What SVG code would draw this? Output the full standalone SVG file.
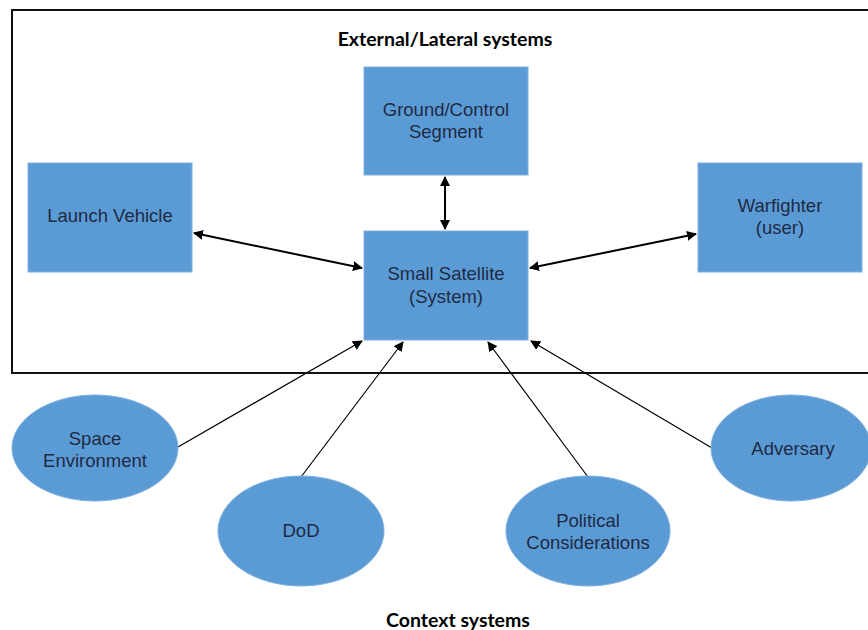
<svg xmlns="http://www.w3.org/2000/svg" width="868" height="630" viewBox="0 0 868 630">
<defs>
<marker id="ah" viewBox="0 0 10 10" refX="9" refY="5" markerWidth="10" markerHeight="10" markerUnits="userSpaceOnUse" orient="auto-start-reverse">
<path d="M0,0 L10,5 L0,10 z" fill="#000"/>
</marker>
<style>
.box{fill:#5b9bd5;stroke:#7fb0df;stroke-width:1}
.ell{fill:#5b9bd5;stroke:#7fb0df;stroke-width:1}
.lbl{font-family:"Liberation Sans",Arial,sans-serif;font-size:18.5px;fill:#1f2a44;text-anchor:middle}
.title{font-family:"Lato","Open Sans",sans-serif;font-weight:bold;font-size:19.5px;fill:#000;text-anchor:middle}
.c2{stroke:#000;stroke-width:2;fill:none}
.c1{stroke:#000;stroke-width:1.2;fill:none}
</style>
</defs>
<rect width="868" height="630" fill="#fff"/>
<rect x="12" y="10" width="870" height="363" fill="none" stroke="#111" stroke-width="2"/>
<text class="title" x="445" y="46">External/Lateral systems</text>
<text class="title" x="458" y="627">Context systems</text>

<g id="connectors">
<line class="c2" x1="445" y1="177" x2="445" y2="229" marker-start="url(#ah)" marker-end="url(#ah)"/>
<line class="c2" x1="194" y1="233" x2="362" y2="268" marker-start="url(#ah)" marker-end="url(#ah)"/>
<line class="c2" x1="530" y1="268" x2="696" y2="234" marker-start="url(#ah)" marker-end="url(#ah)"/>
<line class="c1" x1="178" y1="447" x2="362" y2="341" marker-end="url(#ah)"/>
<line class="c1" x1="301" y1="477" x2="403" y2="342" marker-end="url(#ah)"/>
<line class="c1" x1="588" y1="477" x2="488" y2="342" marker-end="url(#ah)"/>
<line class="c1" x1="712" y1="448" x2="531" y2="341" marker-end="url(#ah)"/>
</g>

<g id="ground">
<rect class="box" x="364" y="67" width="164" height="108"/>
<text class="lbl" x="446" y="116">Ground/Control</text>
<text class="lbl" x="446" y="138">Segment</text>
</g>
<g id="launch">
<rect class="box" x="28" y="163" width="164" height="109"/>
<text class="lbl" x="110" y="222">Launch Vehicle</text>
</g>
<g id="satellite">
<rect class="box" x="364" y="231" width="164" height="109"/>
<text class="lbl" x="446" y="280">Small Satellite</text>
<text class="lbl" x="446" y="303">(System)</text>
</g>
<g id="warfighter">
<rect class="box" x="698" y="163" width="164" height="109"/>
<text class="lbl" x="780" y="212">Warfighter</text>
<text class="lbl" x="780" y="234">(user)</text>
</g>
<g id="space">
<ellipse class="ell" cx="95" cy="448" rx="83" ry="53"/>
<text class="lbl" x="95" y="445">Space</text>
<text class="lbl" x="95" y="467">Environment</text>
</g>
<g id="dod">
<ellipse class="ell" cx="301" cy="531" rx="83" ry="55"/>
<text class="lbl" x="301" y="537">DoD</text>
</g>
<g id="political">
<ellipse class="ell" cx="588" cy="531" rx="82" ry="55"/>
<text class="lbl" x="588" y="527">Political</text>
<text class="lbl" x="588" y="549">Considerations</text>
</g>
<g id="adversary">
<ellipse class="ell" cx="791" cy="448" rx="80" ry="53"/>
<text class="lbl" x="793" y="455">Adversary</text>
</g>
</svg>
